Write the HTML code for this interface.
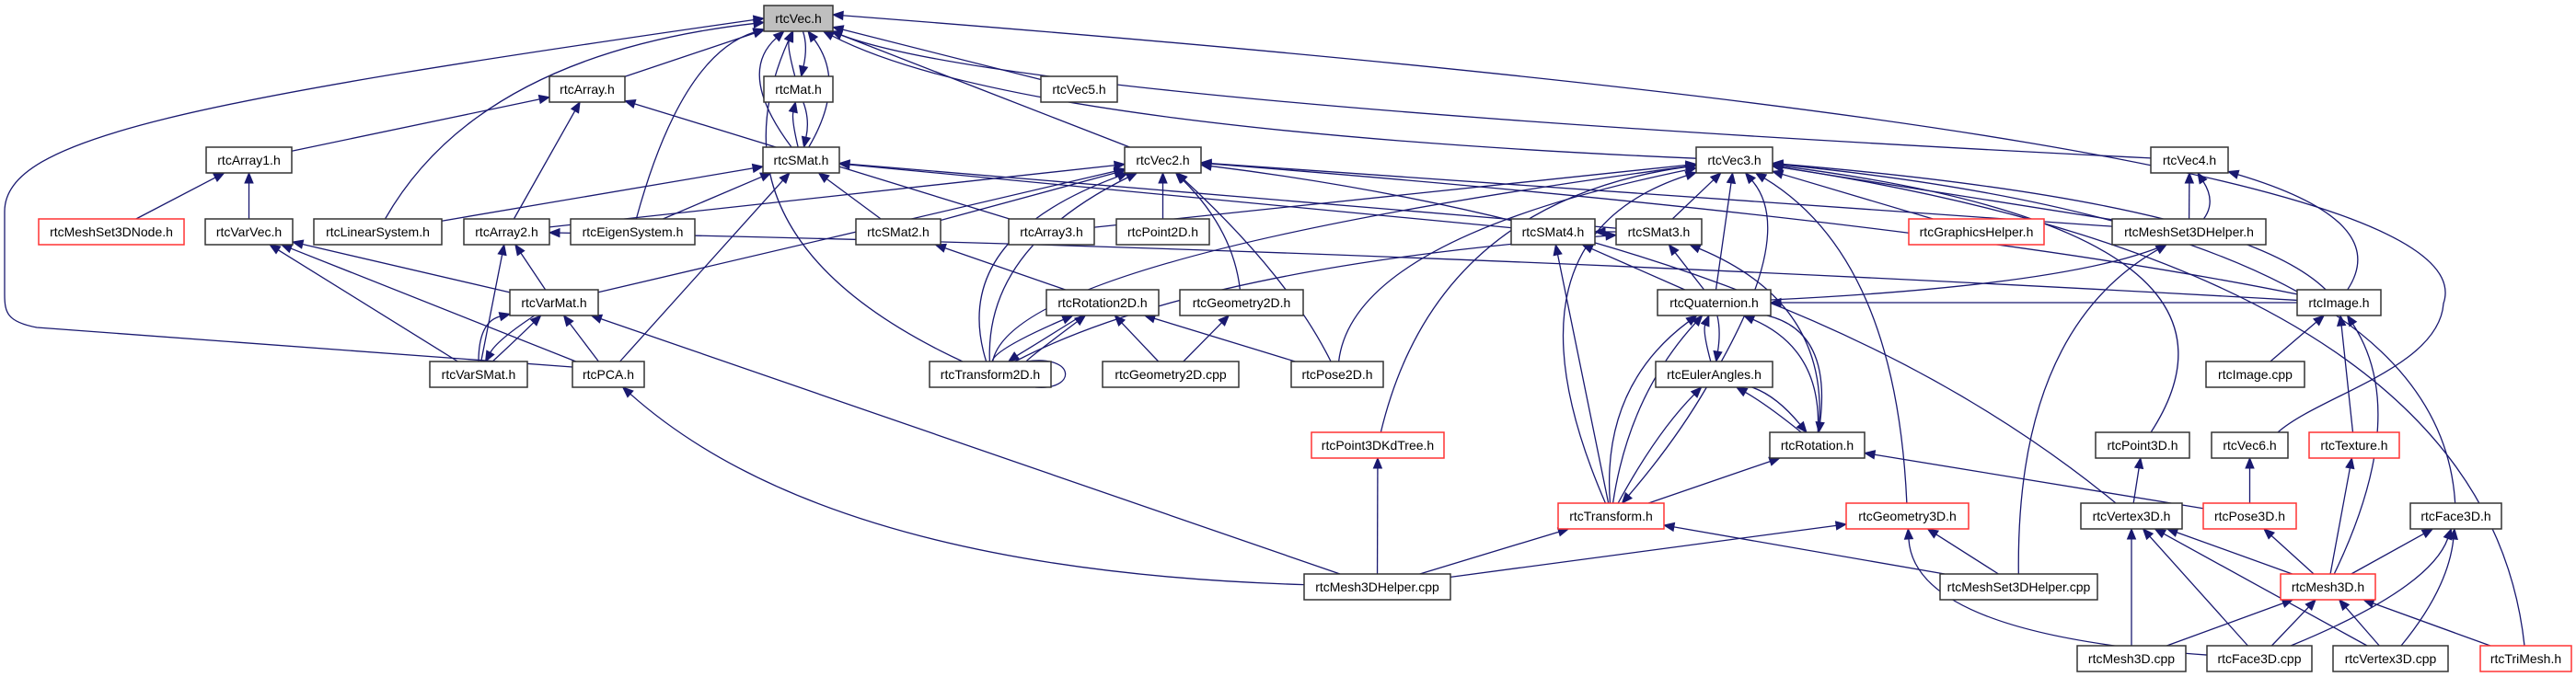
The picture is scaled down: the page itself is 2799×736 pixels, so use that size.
<!DOCTYPE html>
<html><head><meta charset="utf-8"><style>
html,body{margin:0;padding:0;background:#fff;}
svg{display:block}
text{font-family:"Liberation Sans",sans-serif;font-size:14px;}
</style></head><body>
<svg id="g" width="2799" height="736" xmlns="http://www.w3.org/2000/svg"></svg>
<script>
var H=28;
var N={
Vec:[830,6,905,"rtcVec.h",0,1],
Array:[597,83,679,"rtcArray.h"],
Mat:[830,83,905,"rtcMat.h"],
Vec5:[1131,83,1214,"rtcVec5.h"],
Array1:[224,160,317,"rtcArray1.h"],
SMat:[829,160,912,"rtcSMat.h"],
Vec2:[1222,160,1305,"rtcVec2.h"],
Vec3:[1843,160,1926,"rtcVec3.h"],
Vec4:[2337,160,2421,"rtcVec4.h"],
MS3N:[42,238,200,"rtcMeshSet3DNode.h",1],
VarVec:[223,238,318,"rtcVarVec.h"],
LinSys:[341,238,480,"rtcLinearSystem.h"],
Array2:[504,238,597,"rtcArray2.h"],
Eigen:[620,238,755,"rtcEigenSystem.h"],
SMat2:[930,238,1022,"rtcSMat2.h"],
Array3:[1096,238,1189,"rtcArray3.h"],
Point2D:[1213,238,1314,"rtcPoint2D.h"],
SMat4:[1642,238,1733,"rtcSMat4.h"],
SMat3:[1756,238,1849,"rtcSMat3.h"],
GfxH:[2074,238,2221,"rtcGraphicsHelper.h",1],
MS3H:[2295,238,2462,"rtcMeshSet3DHelper.h"],
VarMat:[554,315,650,"rtcVarMat.h"],
Rot2D:[1137,315,1259,"rtcRotation2D.h"],
Geo2D:[1282,315,1416,"rtcGeometry2D.h"],
Quat:[1801,315,1924,"rtcQuaternion.h"],
Image:[2496,315,2587,"rtcImage.h"],
VarSMat:[467,393,573,"rtcVarSMat.h"],
PCA:[622,393,700,"rtcPCA.h"],
T2D:[1010,393,1142,"rtcTransform2D.h"],
Geo2Dc:[1198,393,1346,"rtcGeometry2D.cpp"],
Pose2D:[1403,393,1503,"rtcPose2D.h"],
Euler:[1799,393,1926,"rtcEulerAngles.h"],
ImageC:[2397,393,2504,"rtcImage.cpp"],
KdTree:[1425,470,1569,"rtcPoint3DKdTree.h",1],
Rot:[1923,470,2026,"rtcRotation.h"],
Point3D:[2277,470,2379,"rtcPoint3D.h"],
Vec6:[2403,470,2486,"rtcVec6.h"],
Texture:[2509,470,2607,"rtcTexture.h",1],
Trans:[1693,547,1808,"rtcTransform.h",1],
Geo3D:[2006,547,2139,"rtcGeometry3D.h",1],
Vertex:[2261,547,2371,"rtcVertex3D.h"],
Pose3D:[2394,547,2495,"rtcPose3D.h",1],
Face:[2619,547,2718,"rtcFace3D.h"],
M3DHc:[1417,624,1576,"rtcMesh3DHelper.cpp"],
MS3Hc:[2108,624,2279,"rtcMeshSet3DHelper.cpp"],
Mesh:[2478,624,2581,"rtcMesh3D.h",1],
MeshC:[2257,702,2375,"rtcMesh3D.cpp"],
FaceC:[2398,702,2512,"rtcFace3D.cpp"],
VertC:[2535,702,2660,"rtcVertex3D.cpp"],
TriMesh:[2695,702,2794,"rtcTriMesh.h",1]
};
var E=[
["Array","Vec"],["Mat","Vec",[855,50]],["Vec","Mat",[878,50]],["SMat","Vec",[920,90]],["SMat","Vec",[800,80]],
["Vec5","Vec"],["Vec2","Vec"],["Vec3","Vec",[1100,140]],["Vec4","Vec",[1100,110]],
["LinSys","Vec",[520,60]],["Eigen","Vec",[740,60]],["T2D","Vec",[760,260]],
["Array1","Array"],["Array2","Array"],["Array3","Array"],
["MS3N","Array1"],["VarVec","Array1"],
["VarMat","VarVec"],["VarSMat","VarVec"],["PCA","VarVec"],
["VarMat","Array2"],["VarSMat","Array2"],["Image","Array2",[1500,270]],
["VarSMat","VarMat",[520,350]],["VarSMat","VarMat",[560,370]],["VarMat","VarSMat",[540,370]],["PCA","VarMat"],["M3DHc","VarMat"],
["LinSys","SMat"],["Eigen","SMat"],["SMat2","SMat"],["PCA","SMat"],["SMat4","SMat"],["SMat3","SMat"],["Mat","SMat",[880,130]],["SMat","Mat",[860,130]],
["Array2","Vec2"],["VarMat","Vec2"],["SMat2","Vec2"],["Point2D","Vec2"],["Geo2D","Vec2",[1340,250]],["Pose2D","Vec2",[1400,300]],
["T2D","Vec2",[1030,260]],["T2D","Vec2",[1070,270]],["Image","Vec2",[2100,240]],["MS3H","Vec2"],["Vertex","Vec2",[1950,260]],
["SMat3","Vec3"],["Quat","Vec3"],["Euler","Vec3",[1950,250]],["Array3","Vec3"],["KdTree","Vec3",[1560,220]],["T2D","Vec3",[1100,280]],
["Trans","Vec3",[1620,260]],["Pose2D","Vec3",[1470,260]],["GfxH","Vec3"],["MS3H","Vec3"],["Image","Vec3",[2430,220]],["Point3D","Vec3",[2480,250]],
["Face","Vec3",[2650,250]],["TriMesh","Vec3",[2700,300]],["Geo3D","Vec3",[2060,280]],
["Quat","Vec4",[2460,300]],["Image","Vec4",[2600,240]],["MS3H","Vec4"],
["Quat","SMat3"],["Rot","SMat3",[1990,330]],["T2D","SMat3",[1300,290]],
["Quat","SMat4"],["Trans","SMat4"],["SMat3","SMat4"],
["T2D","Rot2D",[1080,380]],["T2D","Rot2D",[1110,395]],["Rot2D","T2D",[1100,390]],["Pose2D","Rot2D"],["Rot2D","SMat2"],["Geo2Dc","Rot2D"],["Geo2Dc","Geo2D"],
["Euler","Quat",[1850,360]],["Quat","Euler",[1870,360]],["Rot","Quat",[1980,380]],["Quat","Rot",[1990,360]],["Trans","Quat",[1740,420]],["Trans","Quat",[1770,430]],["Image","Quat"],
["Trans","Euler",[1800,470]],["Euler","Trans",[1820,480]],["Rot","Euler",[1920,440]],["Euler","Rot",[1930,430]],
["Trans","Rot"],["Pose3D","Rot"],
["M3DHc","Trans"],["MS3Hc","Trans"],["M3DHc","KdTree"],["M3DHc","Geo3D"],["MS3Hc","Geo3D"],["FaceC","Geo3D",[2080,690]],
["MS3Hc","MS3H",[2190,360]],["M3DHc","PCA",[900,620]],
["ImageC","Image"],["Texture","Image"],["Mesh","Image",[2620,450]],
["Vertex","Point3D"],["Pose3D","Vec6"],["Mesh","Texture"],
["MeshC","Vertex"],["FaceC","Vertex"],["VertC","Vertex"],["Mesh","Vertex"],
["Mesh","Pose3D"],["Mesh","Face"],["FaceC","Face",[2640,640]],["VertC","Face",[2660,640]],
["MeshC","Mesh"],["FaceC","Mesh"],["VertC","Mesh"],["TriMesh","Mesh"]
];
// custom paths: [d, tipx, tipy, dirFromX, dirFromY]
var CU=[
["M622,399 L40,356 C8,350 5,340 5,320 L5,230 C5,150 200,110 830,20",830,20,200,110],
["M2475,470 C2520,430 2650,400 2655,330 C2700,200 2000,100 905,16",905,16,2000,100]
];
var out="",C="#191970";
function ctr(n){var a=N[n];return [(a[0]+a[2])/2,a[1]+H/2,(a[2]-a[0])/2,H/2];}
function clip(n,px,py){var c=ctr(n);var dx=px-c[0],dy=py-c[1];var t=Math.min(dx?c[2]/Math.abs(dx):1e9,dy?c[3]/Math.abs(dy):1e9);return [c[0]+dx*t,c[1]+dy*t];}
function arrow(tx,ty,ux,uy){var L=Math.hypot(ux,uy)||1;ux/=L;uy/=L;var bx=tx-ux*11,by=ty-uy*11;
 out+='<polygon points="'+tx+','+ty+' '+(bx-uy*4.5)+','+(by+ux*4.5)+' '+(bx+uy*4.5)+','+(by-ux*4.5)+'" fill="'+C+'" stroke="'+C+'"/>';return [bx,by];}
E.forEach(function(e){
 var s=ctr(e[0]),d=ctr(e[1]),cp=e[2];
 var ref1=cp?cp:[d[0],d[1]],ref2=cp?cp:[s[0],s[1]];
 var p0=clip(e[0],ref1[0],ref1[1]),p1=clip(e[1],ref2[0],ref2[1]);
 var ux=cp?p1[0]-ref2[0]:p1[0]-p0[0],uy=cp?p1[1]-ref2[1]:p1[1]-p0[1];
 var b=arrow(p1[0],p1[1],ux,uy);
 if(cp) out+='<path d="M'+p0[0]+','+p0[1]+' Q'+cp[0]+','+cp[1]+' '+b[0]+','+b[1]+'" fill="none" stroke="'+C+'" stroke-width="1.3"/>';
 else out+='<line x1="'+p0[0]+'" y1="'+p0[1]+'" x2="'+b[0]+'" y2="'+b[1]+'" stroke="'+C+'" stroke-width="1.3"/>';
});
CU.forEach(function(c){out+='<path d="'+c[0]+'" fill="none" stroke="'+C+'" stroke-width="1.3"/>';arrow(c[1],c[2],c[1]-c[3],c[2]-c[4]);});
out+='<path d="M1115,393 C1170,385 1170,425 1125,421" fill="none" stroke="'+C+'" stroke-width="1.3"/>';
for(var k in N){var a=N[k];
 out+='<rect x="'+a[0]+'" y="'+a[1]+'" width="'+(a[2]-a[0])+'" height="'+H+'" fill="'+(a[5]?'#bfbfbf':'#fff')+'" stroke="'+(a[4]?'#ff3333':'#333')+'" stroke-width="1.5"/>';
 out+='<text x="'+(a[0]+a[2])/2+'" y="'+(a[1]+19)+'" text-anchor="middle">'+a[3]+'</text>';
}
document.getElementById("g").innerHTML=out;
</script>
</body></html>
